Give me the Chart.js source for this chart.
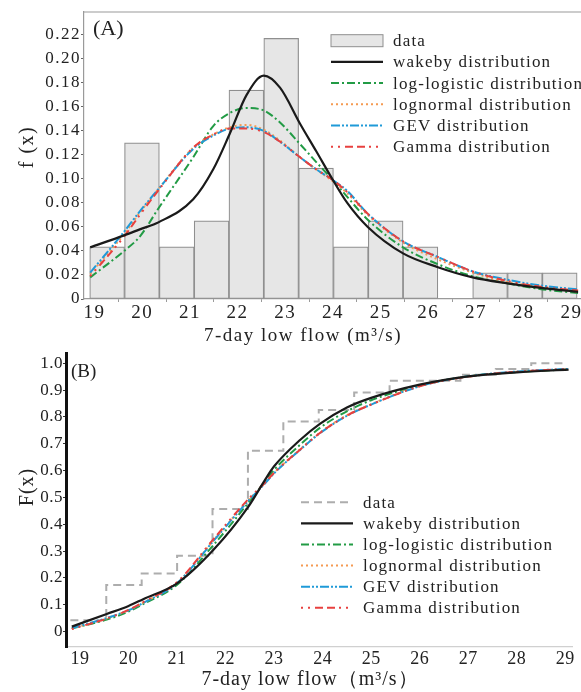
<!DOCTYPE html>
<html>
<head>
<meta charset="utf-8">
<script src="https://cdn.jsdelivr.net/npm/chart.js@4.4.1/dist/chart.umd.min.js"></script>
<style>
  html, body { margin: 0; padding: 0; background: #fff; }
  #wrap { position: relative; width: 581px; height: 692px; }
  canvas { position: absolute; left: 0; }
  #chartA { top: 0; width: 581px; height: 350px; }
  #chartB { top: 350px; width: 581px; height: 342px; }
</style>
</head>
<body>
<div id="wrap">
  <canvas id="chartA" width="581" height="350"></canvas>
  <canvas id="chartB" width="581" height="342"></canvas>
</div>
<script>
// === DATA ===
// (A) histogram, bin centres in m3/s and f(x)
const binCenters = [19.265, 19.995, 20.725, 21.455, 22.185, 22.915, 23.645, 24.375, 25.105, 25.835, 26.565, 27.295, 28.025, 28.755];
const binDensity = [0.0435, 0.130, 0.0435, 0.065, 0.174, 0.217, 0.109, 0.0435, 0.065, 0.0435, 0, 0.0217, 0.0217, 0.0217];

// (A) fitted densities
const pdfX = [18.91, 19.62, 19.95, 20.35, 21.07, 21.49, 21.84, 22.19, 22.55, 22.89, 23.31, 23.65, 24.0, 24.3, 24.73, 25.47, 26.2, 26.93, 27.66, 28.4, 29.14];
const pdfWakeby = [0.043, 0.053, 0.058, 0.064, 0.083, 0.108, 0.138, 0.170, 0.186, 0.176, 0.146, 0.123, 0.099, 0.080, 0.060, 0.038, 0.0265, 0.018, 0.013, 0.009, 0.006];
const pdfLogLogistic = [0.018, 0.040, 0.052, 0.076, 0.118, 0.144, 0.155, 0.159, 0.157, 0.147, 0.129, 0.114, 0.099, 0.085, 0.066, 0.043, 0.029, 0.019, 0.013, 0.008, 0.005];
const pdfLognormal = [0.021, 0.054, 0.072, 0.092, 0.126, 0.137, 0.143, 0.145, 0.141, 0.132, 0.118, 0.108, 0.098, 0.088, 0.070, 0.047, 0.033, 0.022, 0.014, 0.010, 0.006];
const pdfGEV = [0.022, 0.056, 0.073, 0.092, 0.125, 0.136, 0.142, 0.143, 0.140, 0.131, 0.118, 0.108, 0.099, 0.090, 0.071, 0.048, 0.035, 0.023, 0.016, 0.011, 0.008];
const pdfGamma = [0.019, 0.052, 0.070, 0.091, 0.126, 0.137, 0.142, 0.142, 0.139, 0.131, 0.118, 0.108, 0.099, 0.089, 0.071, 0.048, 0.035, 0.023, 0.015, 0.010, 0.007];

// (B) empirical cdf (steps) and fitted cdfs
const ecdfX = [18.80, 19.54, 20.27, 21.00, 21.73, 22.46, 23.19, 23.92, 24.65, 25.38, 26.11, 26.84, 27.57, 28.30, 29.03];
const ecdfY = [0.043, 0.174, 0.217, 0.283, 0.457, 0.674, 0.783, 0.826, 0.891, 0.935, 0.935, 0.957, 0.978, 1.0, 1.0];
const cdfX = [18.83, 19.55, 20.0, 20.3, 21.0, 21.75, 22.47, 22.8, 23.0, 23.54, 23.95, 24.5, 25.0, 26.0, 27.0, 28.0, 29.07];
const cdfWakeby = [0.019, 0.066, 0.096, 0.121, 0.180, 0.305, 0.466, 0.562, 0.616, 0.715, 0.775, 0.835, 0.871, 0.920, 0.951, 0.966, 0.976];
const cdfLogLogistic = [0.012, 0.045, 0.075, 0.103, 0.175, 0.323, 0.480, 0.557, 0.603, 0.697, 0.760, 0.821, 0.862, 0.917, 0.951, 0.967, 0.977];
const cdfLognormal = [0.011, 0.050, 0.080, 0.108, 0.182, 0.340, 0.490, 0.552, 0.592, 0.680, 0.742, 0.806, 0.847, 0.915, 0.950, 0.968, 0.978];
const cdfGEV = [0.013, 0.051, 0.080, 0.107, 0.181, 0.338, 0.488, 0.550, 0.590, 0.678, 0.740, 0.804, 0.846, 0.914, 0.951, 0.969, 0.979];
const cdfGamma = [0.010, 0.049, 0.081, 0.110, 0.185, 0.345, 0.494, 0.553, 0.592, 0.679, 0.741, 0.805, 0.846, 0.914, 0.950, 0.968, 0.979];

const xTicks = [19, 20, 21, 22, 23, 24, 25, 26, 27, 28, 29];

// === STYLES ===
const SERIF = '"Liberation Serif", "Times New Roman", serif';
const INK = '#222';
const styles = {
  wakeby:      { label: 'wakeby distribution',      color: '#1a1a1a', dash: [],                       width: 2.2, order: 0 },
  loglogistic: { label: 'log-logistic distribution', color: '#229b45', dash: [8, 3, 2, 3],             width: 2,   order: 4 },
  lognormal:   { label: 'lognormal distribution',   color: '#f59a52', dash: [2, 3],                   width: 2,   order: 3 },
  gev:         { label: 'GEV distribution',         color: '#1f9ad8', dash: [9, 2, 2, 2, 2, 2],       width: 2,   order: 2 },
  gamma:       { label: 'Gamma distribution',       color: '#e8403f', dash: [2, 5, 2, 5, 8, 4, 8, 4], width: 2,   order: 1 }
};

function toPoints(xs, ys) {
  return xs.map((x, i) => ({ x: x, y: ys[i] }));
}

function curve(key, xs, ys) {
  const s = styles[key];
  return {
    type: 'line',
    label: s.label,
    data: toPoints(xs, ys),
    borderColor: s.color,
    borderDash: s.dash,
    borderWidth: s.width,
    pointRadius: 0,
    fill: false,
    cubicInterpolationMode: 'monotone',
    order: s.order
  };
}

// === PLUGINS ===
// wider tracking, the figure's text is set loose
const spacingPlugin = {
  id: 'spacing',
  beforeLayout(chart, args, opts) { chart.ctx.letterSpacing = opts.px + 'px'; },
  beforeDraw(chart, args, opts) { chart.ctx.letterSpacing = opts.px + 'px'; }
};

// panel tag, axis titles and optional top frame line
const panelPlugin = {
  id: 'panel',
  afterDraw(chart, args, opts) {
    const ctx = chart.ctx;
    const area = chart.chartArea;
    ctx.save();
    if (opts.topLine) {
      ctx.strokeStyle = '#9a9a9a';
      ctx.lineWidth = 1.2;
      ctx.beginPath();
      ctx.moveTo(area.left, area.top);
      ctx.lineTo(chart.width, area.top);
      ctx.stroke();
    }
    ctx.fillStyle = INK;
    ctx.textBaseline = 'middle';
    ctx.textAlign = 'left';
    ctx.letterSpacing = '0px';
    ctx.font = opts.tagSize + 'px ' + SERIF;
    ctx.fillText(opts.tag, opts.tagX, opts.tagY);

    ctx.textAlign = 'center';
    ctx.letterSpacing = opts.titleSpacing + 'px';
    ctx.font = opts.titleSize + 'px ' + SERIF;
    ctx.fillText(opts.xTitle, opts.xTitleX, opts.xTitleY);

    ctx.translate(opts.yTitleX, opts.yTitleY);
    ctx.rotate(-Math.PI / 2);
    ctx.font = '20px ' + SERIF;
    ctx.fillText(opts.yTitle, 0, 0);
    ctx.restore();
  }
};

// legend drawn as a fixed column, samples taken from the datasets
const legendPlugin = {
  id: 'columnLegend',
  afterDraw(chart, args, opts) {
    const ctx = chart.ctx;
    ctx.save();
    ctx.letterSpacing = opts.spacing + 'px';
    ctx.font = '17px ' + SERIF;
    ctx.textBaseline = 'middle';
    ctx.textAlign = 'left';
    chart.data.datasets.forEach((ds, i) => {
      const y = opts.top + i * opts.gap;
      const x0 = opts.left, x1 = opts.left + opts.sample;
      if (ds.type === 'bar') {
        ctx.fillStyle = ds.backgroundColor;
        ctx.fillRect(x0, y - 6, x1 - x0, 12);
        ctx.strokeStyle = ds.borderColor;
        ctx.lineWidth = 1;
        ctx.strokeRect(x0, y - 6, x1 - x0, 12);
      } else {
        ctx.strokeStyle = ds.borderColor;
        ctx.lineWidth = ds.borderWidth;
        ctx.setLineDash(ds.borderDash || []);
        ctx.beginPath();
        ctx.moveTo(x0, y);
        ctx.lineTo(x1, y);
        ctx.stroke();
        ctx.setLineDash([]);
      }
      ctx.fillStyle = INK;
      ctx.fillText(ds.label, x1 + 10, y + 1);
    });
    ctx.restore();
  }
};

function fixedTicks(scale) {
  scale.ticks = xTicks.map(v => ({ value: v }));
}

// === CHART (A): histogram + densities ===
new Chart(document.getElementById('chartA'), {
  type: 'bar',
  data: {
    datasets: [
      {
        type: 'bar',
        label: 'data',
        data: toPoints(binCenters, binDensity),
        backgroundColor: '#e6e6e6',
        borderColor: '#8f8f8f',
        borderWidth: 1.2,
        borderSkipped: false,
        barPercentage: 1,
        categoryPercentage: 1,
        order: 10
      },
      curve('wakeby', pdfX, pdfWakeby),
      curve('loglogistic', pdfX, pdfLogLogistic),
      curve('lognormal', pdfX, pdfLognormal),
      curve('gev', pdfX, pdfGEV),
      curve('gamma', pdfX, pdfGamma)
    ]
  },
  options: {
    responsive: false,
    animation: false,
    events: [],
    layout: { padding: { top: 12, right: 1, left: 0, bottom: 0 } },
    plugins: {
      legend: { display: false },
      tooltip: { enabled: false },
      spacing: { px: 1.5 },
      panel: {
        tag: '(A)', tagX: 93, tagY: 29, tagSize: 22, topLine: true,
        xTitle: '7-day low flow (m³/s)', xTitleX: 303, xTitleY: 336, titleSize: 19, titleSpacing: 1.5,
        yTitle: 'f (x)', yTitleX: 28, yTitleY: 147
      },
      columnLegend: { left: 331, top: 40.7, gap: 21.2, sample: 52, spacing: 1.2 }
    },
    scales: {
      x: {
        type: 'linear',
        min: 18.78,
        max: 29.18,
        offset: false,
        afterBuildTicks: fixedTicks,
        afterFit: s => { s.height = 51; s.paddingLeft = 0; s.paddingRight = 0; },
        border: { color: '#9a9a9a', width: 1.2 },
        grid: { drawOnChartArea: false, tickLength: 3, color: '#9a9a9a' },
        ticks: { autoSkip: false, maxRotation: 0, padding: 0, color: INK, font: { family: SERIF, size: 19 } }
      },
      y: {
        min: 0,
        max: 0.239,
        afterFit: s => { s.width = 84; s.paddingTop = 0; s.paddingBottom = 0; },
        border: { color: '#9a9a9a', width: 1.2 },
        grid: { drawOnChartArea: false, tickLength: 3, color: '#666' },
        ticks: {
          stepSize: 0.02,
          includeBounds: false,
          padding: 0,
          color: INK,
          font: { family: SERIF, size: 17 },
          callback: v => Math.abs(v) < 1e-9 ? '0' : v.toFixed(2)
        }
      }
    }
  },
  plugins: [spacingPlugin, panelPlugin, legendPlugin]
});

// === CHART (B): cumulative ===
new Chart(document.getElementById('chartB'), {
  type: 'line',
  data: {
    datasets: [
      {
        label: 'data',
        data: toPoints(ecdfX, ecdfY),
        stepped: 'before',
        borderColor: '#adadad',
        borderDash: [8, 5],
        borderWidth: 2,
        pointRadius: 0,
        fill: false,
        order: 10
      },
      curve('wakeby', cdfX, cdfWakeby),
      curve('loglogistic', cdfX, cdfLogLogistic),
      curve('lognormal', cdfX, cdfLognormal),
      curve('gev', cdfX, cdfGEV),
      curve('gamma', cdfX, cdfGamma)
    ]
  },
  options: {
    responsive: false,
    animation: false,
    events: [],
    layout: { padding: { top: 3, right: 9, left: 0, bottom: 0 } },
    plugins: {
      legend: { display: false },
      tooltip: { enabled: false },
      spacing: { px: 0.5 },
      panel: {
        tag: '(B)', tagX: 71, tagY: 22, tagSize: 19, topLine: false,
        xTitle: '7-day low flow（m³/s）', xTitleX: 310, xTitleY: 330, titleSize: 20, titleSpacing: 1,
        yTitle: 'F(x)', yTitleX: 28, yTitleY: 137
      },
      columnLegend: { left: 301, top: 152.3, gap: 21.1, sample: 52, spacing: 1.2 }
    },
    scales: {
      x: {
        type: 'linear',
        min: 18.71,
        max: 29.14,
        afterBuildTicks: fixedTicks,
        afterFit: s => { s.height = 45; s.paddingLeft = 0; s.paddingRight = 0; },
        border: { color: '#d0d0d0', width: 1.2 },
        grid: { drawOnChartArea: false, drawTicks: false },
        ticks: { autoSkip: false, maxRotation: 0, padding: 1, color: INK, font: { family: SERIF, size: 18 } }
      },
      y: {
        min: -0.057,
        max: 1.038,
        afterFit: s => { s.width = 66; s.paddingTop = 0; s.paddingBottom = 0; },
        border: { color: '#111', width: 3 },
        grid: { drawOnChartArea: false, tickLength: 3, color: '#333' },
        ticks: {
          stepSize: 0.1,
          includeBounds: false,
          padding: 0,
          color: INK,
          font: { family: SERIF, size: 17 },
          callback: v => Math.abs(v) < 1e-9 ? '0' : v.toFixed(1)
        }
      }
    }
  },
  plugins: [spacingPlugin, panelPlugin, legendPlugin]
});
</script>
</body>
</html>
